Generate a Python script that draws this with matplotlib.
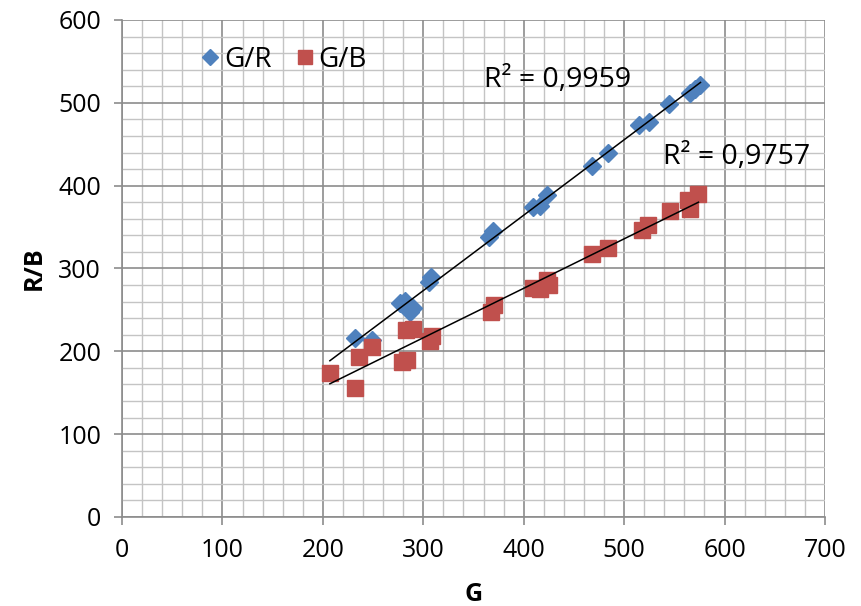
import numpy as np
import matplotlib
matplotlib.use("Agg")
import matplotlib.pyplot as plt
from matplotlib.ticker import MultipleLocator

# G/R series (blue diamonds)
gr_x = [232, 249, 277, 282, 290, 287, 308, 306, 365, 369, 409, 416, 423,
        468, 484, 515, 525, 545, 566, 571, 576]
gr_y = [216, 214, 258, 261, 252, 248, 290, 284, 338, 345, 374, 376, 389,
        424, 440, 473, 477, 499, 512, 517, 522]

# G/B series (red squares)
gb_x = [207, 232, 236, 249, 279, 284, 283, 290, 307, 309, 367, 370, 409,
        416, 423, 425, 468, 484, 518, 524, 546, 564, 566, 574]
gb_y = [174, 156, 193, 205, 187, 190, 226, 227, 212, 218, 247, 256, 277,
        275, 286, 280, 318, 325, 346, 353, 369, 383, 372, 390]

labels = ["G/R", "G/B"]
r2_texts = ["R² = 0,9959", "R² = 0,9757"]


def main():
    plt.rcParams['font.family'] = ['Open Sans', 'DejaVu Sans']

    fig = plt.figure(figsize=(8.61, 6.06), dpi=100)
    ax = fig.add_axes([0.1417, 0.1469, 0.8165, 0.8201])

    blue = '#4F81BD'
    red = '#C0504D'

    ax.plot(gr_x, gr_y, 'D', color=blue, markersize=9.5, label=labels[0], zorder=3)
    ax.plot(gb_x, gb_y, 's', color=red, markersize=11.5, label=labels[1], zorder=3)

    # linear trend lines
    for xs, ys in ((gr_x, gr_y), (gb_x, gb_y)):
        k, b = np.polyfit(xs, ys, 1)
        xx = np.array([min(gb_x), max(xs)])
        ax.plot(xx, k * xx + b, color='black', lw=1.1, zorder=4)

    ax.set_xlim(0, 700)
    ax.set_ylim(0, 600)
    ax.xaxis.set_major_locator(MultipleLocator(100))
    ax.yaxis.set_major_locator(MultipleLocator(100))
    ax.xaxis.set_minor_locator(MultipleLocator(20))
    ax.yaxis.set_minor_locator(MultipleLocator(20))

    ax.grid(True, which='minor', color='#C4C4C4', lw=1.0, zorder=0)
    ax.grid(True, which='major', color='#8C8C8C', lw=1.2, zorder=1)
    ax.set_axisbelow(True)

    for s in ('top', 'right'):
        ax.spines[s].set_visible(False)
    for s in ('left', 'bottom'):
        ax.spines[s].set_color('#8C8C8C')
        ax.spines[s].set_linewidth(1.2)

    ax.tick_params(which='major', length=6, width=1.2, color='#8C8C8C',
                   labelsize=18, pad=9)
    ax.tick_params(which='minor', length=0)

    ax.set_xlabel('G', fontsize=18, fontweight='bold', labelpad=14)
    ax.set_ylabel('R/B', fontsize=18, fontweight='bold', labelpad=8)

    ax.text(360, 528, r2_texts[0], fontsize=20.5, va='center', ha='left')
    ax.text(539, 434, r2_texts[1], fontsize=20.5, va='center', ha='left')

    ax.legend(loc='upper left', bbox_to_anchor=(0.062, 0.998), ncol=2,
              frameon=False, fontsize=20, handletextpad=-0.2,
              handlelength=1.4, columnspacing=0.5, markerscale=0.9)

    fig.savefig('out.png', dpi=100)


if __name__ == "__main__":
    main()
